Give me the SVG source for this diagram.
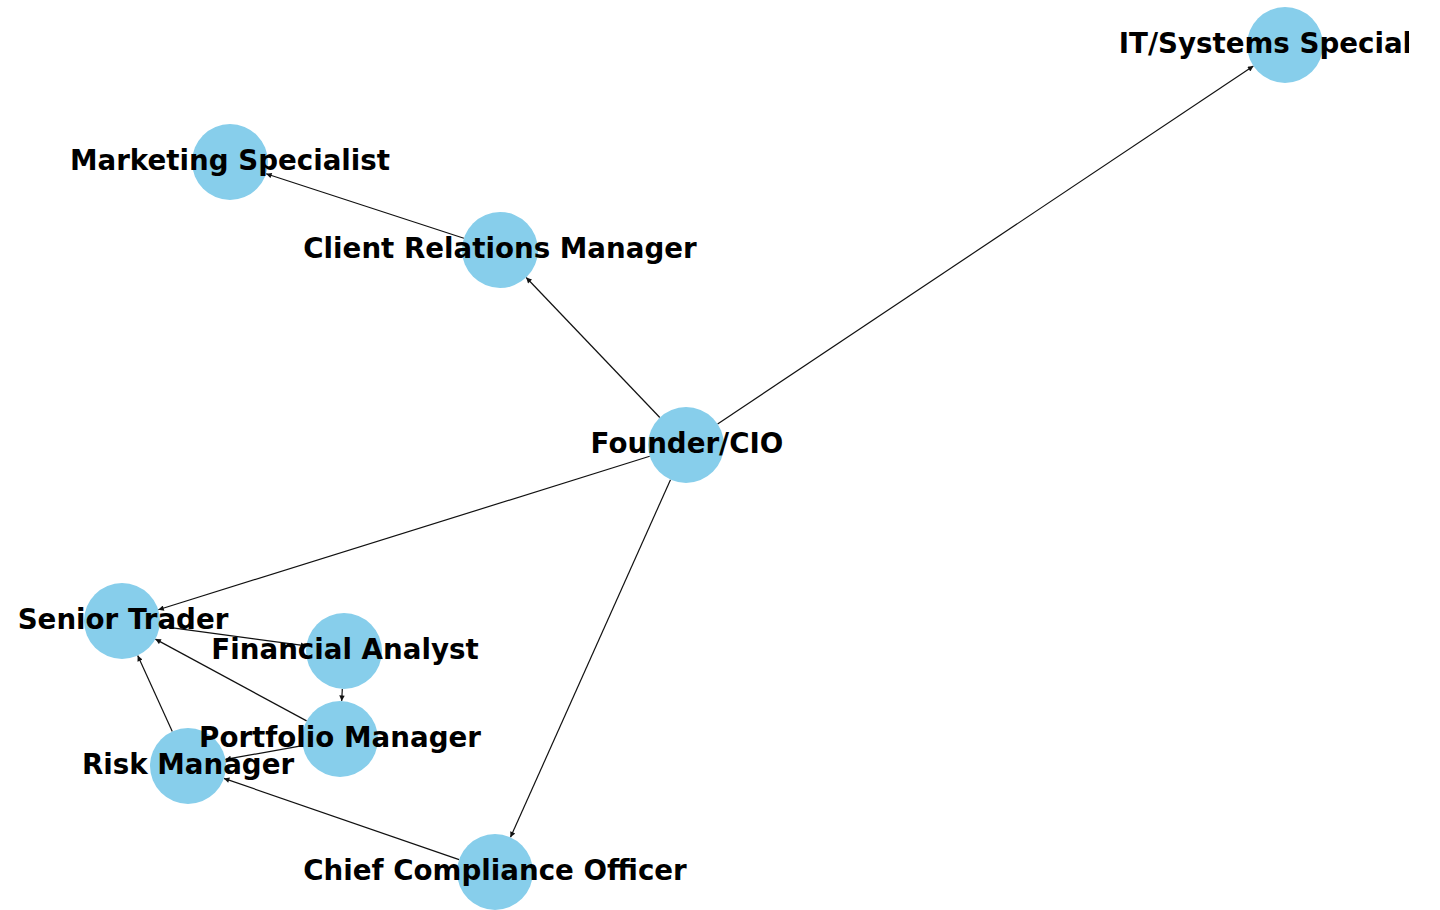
<svg xmlns="http://www.w3.org/2000/svg" width="1440" height="910" viewBox="0 0 1440 910">
<style>
.node circle{fill:#87CEEB;}
.node text{font-family:"DejaVu Sans","Liberation Sans",sans-serif;font-weight:bold;font-size:27.7px;fill:#000;text-anchor:middle;dominant-baseline:central;}
#edges line{stroke:#111;stroke-width:1.2;marker-end:url(#arr);}
</style>
<defs>
<marker id="arr" viewBox="0 0 10 10" refX="10" refY="5" markerWidth="8" markerHeight="5.5" markerUnits="userSpaceOnUse" orient="auto">
<path d="M0,0 L10,5 L0,10 Z" fill="#111"/>
</marker>
<clipPath id="clipR"><rect x="0" y="0" width="1409" height="910"/></clipPath>
</defs>
<rect width="1440" height="910" fill="#fff"/>
<g id="edges">
<line x1="659.8" y1="417.5" x2="526.2" y2="277.5"/>
<line x1="463.9" y1="238.2" x2="266.1" y2="173.8"/>
<line x1="717.6" y1="423.9" x2="1253.4" y2="66.1"/>
<line x1="649.7" y1="456.3" x2="158.3" y2="609.7"/>
<line x1="670.5" y1="479.7" x2="510.5" y2="837.3"/>
<line x1="459.1" y1="859.6" x2="223.9" y2="778.4"/>
<line x1="172.3" y1="731.4" x2="137.7" y2="655.6"/>
<line x1="306.6" y1="720.9" x2="155.4" y2="639.1"/>
<line x1="342.3" y1="689" x2="341.7" y2="701"/>
<line x1="159.7" y1="626.1" x2="306.3" y2="645.9"/>
<line x1="302.6" y1="745.6" x2="225.4" y2="759.4"/>
</g>
<g id="node-it" class="node"><circle cx="1285" cy="45" r="38"/><text x="1285" y="43" clip-path="url(#clipR)">IT/Systems Specialist</text></g>
<g id="node-marketing" class="node"><circle cx="230" cy="162" r="38"/><text x="230" y="160">Marketing Specialist</text></g>
<g id="node-client" class="node"><circle cx="500" cy="250" r="38"/><text x="500" y="248">Client Relations Manager</text></g>
<g id="node-founder" class="node"><circle cx="686" cy="445" r="38"/><text x="687" y="443">Founder/CIO</text></g>
<g id="node-senior" class="node"><circle cx="122" cy="621" r="38"/><text x="123" y="619">Senior Trader</text></g>
<g id="node-analyst" class="node"><circle cx="344" cy="651" r="38"/><text x="345" y="649">Financial Analyst</text></g>
<g id="node-risk" class="node"><circle cx="188" cy="766" r="38"/><text x="188" y="764">Risk Manager</text></g>
<g id="node-portfolio" class="node"><circle cx="340" cy="739" r="38"/><text x="340" y="737">Portfolio Manager</text></g>
<g id="node-cco" class="node"><circle cx="495" cy="872" r="38"/><text x="495" y="870">Chief Compliance Officer</text></g>
</svg>
